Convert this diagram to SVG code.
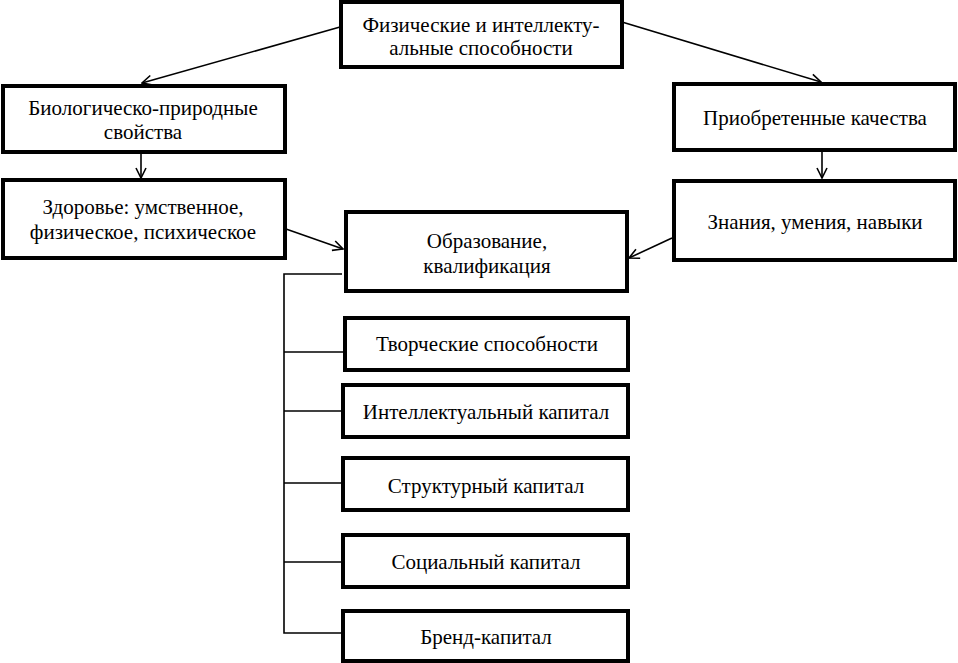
<svg xmlns="http://www.w3.org/2000/svg" width="958" height="663" viewBox="0 0 958 663">
<defs>
<style>
.box{fill:#fff;stroke:#000;stroke-width:4}
.t{font-family:"Liberation Serif","Times New Roman",serif;font-size:21px;fill:#000;text-anchor:middle}
.c{stroke:#000;stroke-width:1.6;fill:none}
</style>
<marker id="ah" viewBox="0 0 12 12" refX="11" refY="6" markerWidth="12" markerHeight="12" markerUnits="userSpaceOnUse" orient="auto">
<path d="M1,1 L11,6 L1,11" fill="none" stroke="#000" stroke-width="1.6"/>
</marker>
</defs>
<rect width="958" height="663" fill="#fff"/>
<g id="connectors">
<line class="c" x1="340" y1="27" x2="142" y2="83" marker-end="url(#ah)"/>
<line class="c" x1="622" y1="22" x2="821" y2="82" marker-end="url(#ah)"/>
<line class="c" x1="141" y1="152" x2="141" y2="178" marker-end="url(#ah)"/>
<line class="c" x1="822" y1="150" x2="822" y2="178" marker-end="url(#ah)"/>
<line class="c" x1="286" y1="229" x2="343" y2="249" marker-end="url(#ah)"/>
<line class="c" x1="672" y1="238" x2="629" y2="258" marker-end="url(#ah)"/>
<polyline class="c" points="342,274 284,274 284,633 342,633"/>
<line class="c" x1="284" y1="352" x2="344" y2="352"/>
<line class="c" x1="284" y1="411" x2="342" y2="411"/>
<line class="c" x1="284" y1="483" x2="342" y2="483"/>
<line class="c" x1="284" y1="562" x2="342" y2="562"/>
</g>
<g id="n-top">
<rect class="box" x="341" y="2" width="281" height="65"/>
<text class="t" x="481" y="32">Физические и интеллекту-</text>
<text class="t" x="481" y="55">альные способности</text>
</g>
<g id="n-bio">
<rect class="box" x="3" y="86" width="282" height="66"/>
<text class="t" x="143" y="115">Биологическо-природные</text>
<text class="t" x="143" y="139">свойства</text>
</g>
<g id="n-health">
<rect class="box" x="3" y="180" width="282" height="78"/>
<text class="t" x="143" y="214">Здоровье: умственное,</text>
<text class="t" x="143" y="239">физическое, психическое</text>
</g>
<g id="n-acquired">
<rect class="box" x="674" y="84" width="281" height="66"/>
<text class="t" x="815" y="125">Приобретенные качества</text>
</g>
<g id="n-knowledge">
<rect class="box" x="674" y="181" width="281" height="79"/>
<text class="t" x="815" y="229">Знания, умения, навыки</text>
</g>
<g id="n-edu">
<rect class="box" x="346" y="212" width="281" height="79"/>
<text class="t" x="487" y="248">Образование,</text>
<text class="t" x="487" y="273">квалификация</text>
</g>
<g id="n-creative">
<rect class="box" x="345" y="318" width="283" height="52"/>
<text class="t" x="487" y="351">Творческие способности</text>
</g>
<g id="n-intel">
<rect class="box" x="343" y="385" width="285" height="52"/>
<text class="t" x="486" y="419">Интеллектуальный капитал</text>
</g>
<g id="n-struct">
<rect class="box" x="343" y="458" width="285" height="52"/>
<text class="t" x="486" y="493">Структурный капитал</text>
</g>
<g id="n-social">
<rect class="box" x="343" y="535" width="285" height="52"/>
<text class="t" x="486" y="569">Социальный капитал</text>
</g>
<g id="n-brand">
<rect class="box" x="343" y="611" width="285" height="50"/>
<text class="t" x="486" y="644">Бренд-капитал</text>
</g>
</svg>
